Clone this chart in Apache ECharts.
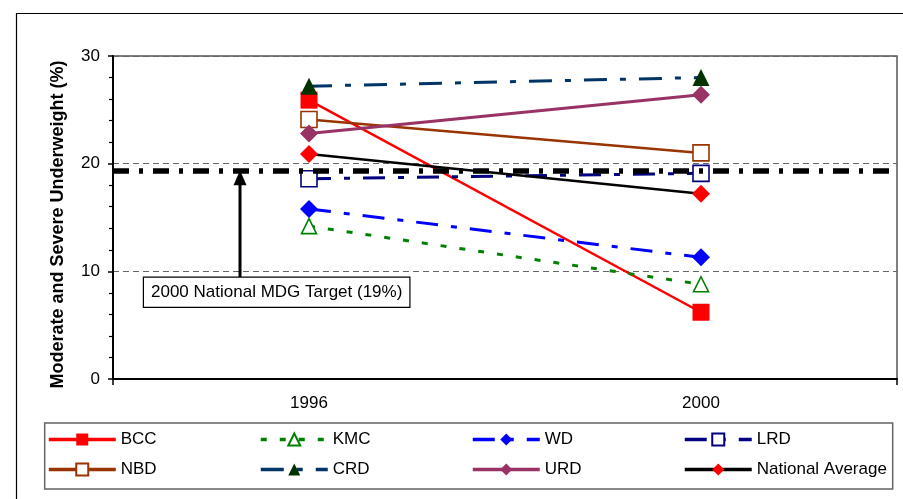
<!DOCTYPE html>
<html>
<head>
<meta charset="utf-8">
<script src="https://cdn.jsdelivr.net/npm/echarts@6/dist/echarts.min.js"></script>
<style>
html,body{margin:0;padding:0;background:#fff;}
#chart{width:903px;height:499px;}
</style>
</head>
<body>
<div id="chart"></div>
<script>
const years = ['1996', '2000'];
const BCC = [25.9, 6.2];
const KMC = [14.2, 8.8];
const WD = [15.8, 11.3];
const LRD = [18.6, 19.1];
const NBD = [24.1, 21.0];
const CRD = [27.2, 28.0];
const URD = [22.8, 26.4];
const NAT = [20.9, 17.2];
const TARGET = 19.3;
const yTicks = [0, 10, 20, 30];
const legendRow1 = ['BCC', 'KMC', 'WD', 'LRD'];
const legendRow2 = ['NBD', 'CRD', 'URD', 'National Average'];
const targetLabel = '2000 National MDG Target (19%)';
const yName = 'Moderate and Severe Underweight (%)';

const FONT = 'Arial, "Liberation Sans", sans-serif';
const chart = echarts.init(document.getElementById('chart'));

function ser(name, data, lineColor, lineWidth, dash, symbol, fill, border, size) {
  return {
    name: name, type: 'line', data: data,
    symbol: symbol, symbolSize: size,
    lineStyle: {color: lineColor, width: lineWidth, type: dash},
    itemStyle: {color: fill, borderColor: border, borderWidth: fill === '#ffffff' ? 1.6 : 0, opacity: 1},
    emphasis: {disabled: true},
    animation: false,
    z: 3
  };
}

const legends = [];
[legendRow1, legendRow2].forEach(function (row, r) {
  row.forEach(function (name, c) {
    legends.push({
      left: 47 + c * 212, top: 431 + r * 30,
      itemWidth: 67, itemHeight: 15, padding: 0,
      textStyle: {fontFamily: FONT, fontSize: 17, color: '#000'},
      lineStyle: {width: 3.5},
      selectedMode: false,
      data: [name]
    });
  });
});

const option = {
  animation: false,
  grid: {left: 113, top: 56, right: 6, bottom: 120, show: true, borderColor: '#555', borderWidth: 1.5, backgroundColor: 'transparent'},
  xAxis: {
    type: 'category', data: years, boundaryGap: true,
    axisLine: {lineStyle: {color: '#000', width: 2}},
    axisTick: {show: true, length: 6, interval: function (i) { return i !== 1; }, lineStyle: {color: '#000', width: 1.5}},
    axisLabel: {fontFamily: FONT, fontSize: 17, color: '#000', margin: 16},
    splitLine: {show: false}
  },
  yAxis: {
    type: 'value', min: yTicks[0], max: yTicks[yTicks.length - 1], interval: 10,
    name: yName, nameLocation: 'middle', nameGap: 46, nameRotate: 90,
    nameTextStyle: {fontFamily: FONT, fontSize: 18, fontWeight: 'bold', color: '#000', padding: [0, 14, 0, 0]},
    axisLine: {show: true, lineStyle: {color: '#000', width: 2}},
    axisTick: {show: true, length: 5, lineStyle: {color: '#000', width: 1.5}},
    minorTick: {show: true, splitNumber: 5, length: 4, lineStyle: {color: '#000', width: 1.2}},
    axisLabel: {fontFamily: FONT, fontSize: 17, color: '#000', margin: 13},
    splitLine: {show: true, lineStyle: {color: '#666', width: 1, type: [6, 4]}}
  },
  legend: legends,
  series: [
    ser('BCC', BCC, '#ff0000', 2.5, 'solid', 'rect', '#ff0000', '#ff0000', 17),
    ser('KMC', KMC, '#008000', 3, [6, 13], 'triangle', '#ffffff', '#008000', 15),
    ser('WD', WD, '#0000ff', 3, [22, 13, 6, 13], 'diamond', '#0000ff', '#0000ff', 18),
    ser('LRD', LRD, '#000080', 3, [22, 13, 6, 13], 'rect', '#ffffff', '#000080', 16),
    ser('NBD', NBD, '#993300', 2.5, 'solid', 'rect', '#ffffff', '#993300', 16),
    ser('CRD', CRD, '#003366', 3, [23, 13, 6, 13], 'triangle', '#003300', '#003300', 17),
    ser('URD', URD, '#993366', 3, 'solid', 'diamond', '#993366', '#993366', 18),
    ser('National Average', NAT, '#000000', 2.5, 'solid', 'diamond', '#ff0000', '#ff0000', 18),
    {
      name: 'Target', type: 'line', data: [], z: 4, animation: false,
      markLine: {
        silent: true, symbol: ['none', 'none'], label: {show: false},
        lineStyle: {color: '#000', width: 5.5, type: [16, 10, 4, 10]},
        data: [{yAxis: TARGET}]
      }
    }
  ]
};
chart.setOption(option);

// annotation: arrow + boxed label
const yTip = chart.convertToPixel({yAxisIndex: 0}, TARGET);
const yBase = chart.convertToPixel({yAxisIndex: 0}, 9.4);
const gridLeft = 113, gridW = 903 - 113 - 6;
const ax = gridLeft + gridW * 0.162;
chart.setOption({
  graphic: [
    {type: 'rect', shape: {x: 16.5, y: 13.5, width: 900, height: 500}, style: {fill: 'none', stroke: '#000', lineWidth: 1.2}, silent: true, z: 0},
    {type: 'rect', shape: {x: 44.7, y: 423, width: 848, height: 66}, style: {fill: 'none', stroke: '#666', lineWidth: 1.5}, silent: true, z: 0},
    {type: 'line', shape: {x1: ax, y1: yBase, x2: ax, y2: yTip + 12}, style: {stroke: '#000', lineWidth: 3}, silent: true, z: 10},
    {type: 'polygon', shape: {points: [[ax, yTip - 1], [ax - 6.5, yTip + 14], [ax + 6.5, yTip + 14]]}, style: {fill: '#000'}, silent: true, z: 10},
    {type: 'text', x: 144, y: yBase, z: 10, silent: true,
      style: {text: targetLabel, font: '17px ' + FONT, fill: '#000', align: 'left', verticalAlign: 'top',
        backgroundColor: '#fff', borderColor: '#000', borderWidth: 1.2, padding: [5, 7, 5, 7], lineHeight: 19}}
  ]
});
</script>
</body>
</html>
